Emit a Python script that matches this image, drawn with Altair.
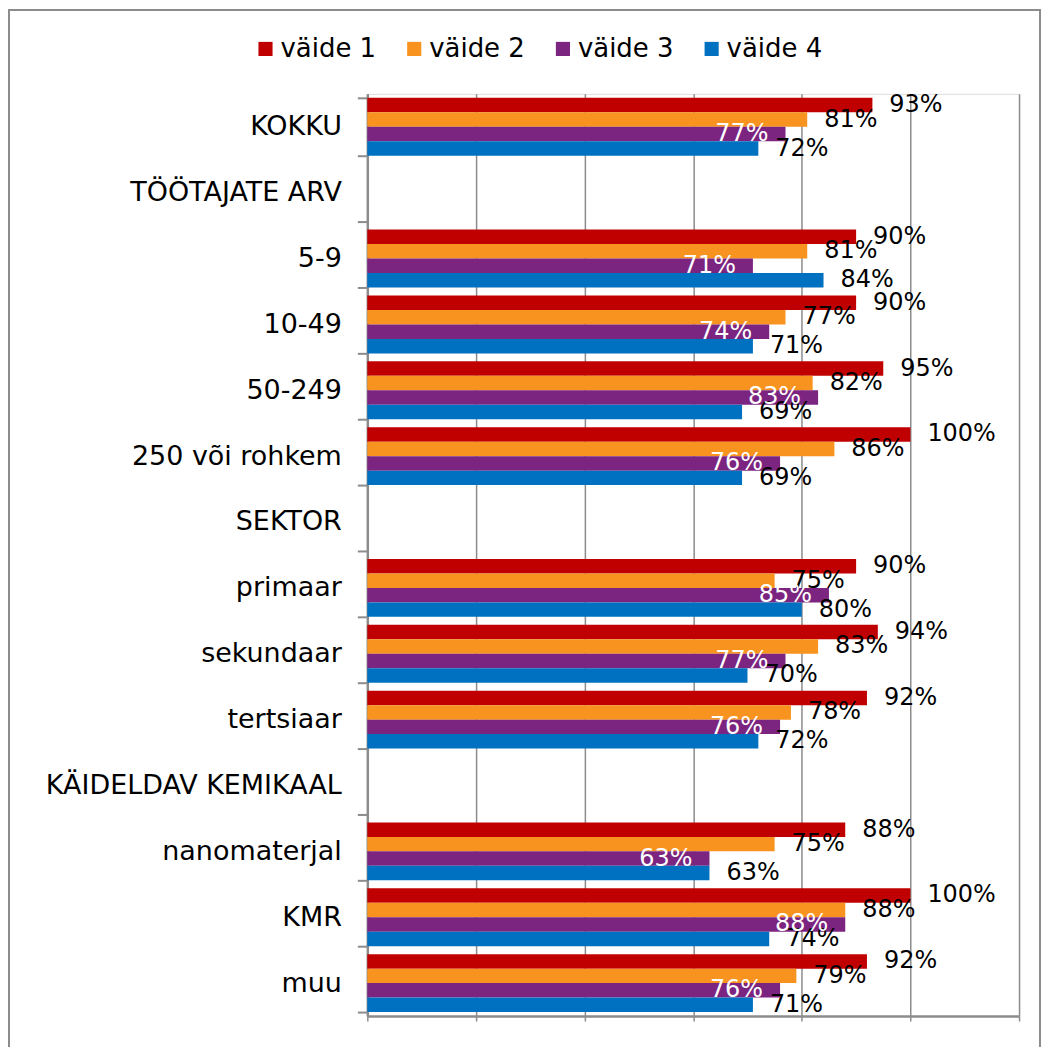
import altair as alt
import pandas as pd

categories = ["KOKKU", "TÖÖTAJATE ARV", "5-9", "10-49\u00a0", "50-249", "250 või rohkem",
              "SEKTOR", "primaar", "sekundaar", "tertsiaar", "KÄIDELDAV KEMIKAAL",
              "nanomaterjal", "KMR", "muu"]
series = ["väide 1", "väide 2", "väide 3", "väide 4"]
colors = ["#C00000", "#F7931E", "#7B2480", "#0070C0"]

v1 = [93, None, 90, 90, 95, 100, None, 90, 94, 92, None, 88, 100, 92]
v2 = [81, None, 81, 77, 82, 86, None, 75, 83, 78, None, 75, 88, 79]
v3 = [77, None, 71, 74, 83, 76, None, 85, 77, 76, None, 63, 88, 76]
v4 = [72, None, 84, 71, 69, 69, None, 80, 70, 72, None, 63, 74, 71]

rows = []
for s, vals in zip(series, [v1, v2, v3, v4]):
    for c, v in zip(categories, vals):
        if v is not None:
            rows.append({"cat": c, "series": s, "value": v})
df = pd.DataFrame(rows)

GRAY = "#8c8c8c"
FONT = "DejaVu Sans"

x_enc = alt.X("value:Q",
              scale=alt.Scale(domain=[0, 120], nice=False),
              axis=alt.Axis(values=[0, 20, 40, 60, 80, 100, 120], labels=False, title=None,
                            grid=True, gridColor=GRAY, gridWidth=1.5,
                            domainColor=GRAY, domainWidth=2.5,
                            tickColor=GRAY, tickWidth=1.5, tickSize=5))
y_enc = alt.Y("cat:N",
              scale=alt.Scale(domain=categories, paddingInner=0.12, paddingOuter=0.06),
              axis=alt.Axis(title=None, labelFontSize=27, labelFont=FONT, labelColor="black",
                            labelLimit=600, labelPadding=16, tickSize=10, tickBand="extent",
                            tickColor=GRAY, tickWidth=2, domainColor=GRAY, domainWidth=2.5,
                            grid=False))
yoff_enc = alt.YOffset("series:N", scale=alt.Scale(domain=series, paddingInner=0, paddingOuter=0))

base = alt.Chart(df).transform_calculate(label="datum.value + '%'")

bars = base.mark_bar().encode(
    x=x_enc, y=y_enc, yOffset=yoff_enc,
    color=alt.Color("series:N", scale=alt.Scale(domain=series, range=colors),
                    legend=alt.Legend(title=None, orient="none", legendX=-115, legendY=-58,
                                      direction="horizontal", columns=4,
                                      labelFontSize=26, labelFont=FONT, labelColor="black",
                                      symbolType="square", symbolSize=200, symbolStrokeWidth=0,
                                      labelOffset=2, columnPadding=25, padding=0))
)

labels_out = base.transform_filter("datum.series != 'väide 3'").mark_text(
    align="left", baseline="middle", dx=17, fontSize=24, font=FONT, color="black"
).encode(x=x_enc, y=y_enc, yOffset=yoff_enc, text="label:N")

labels_in = base.transform_filter("datum.series == 'väide 3'").mark_text(
    align="right", baseline="middle", dx=-17, fontSize=24, font=FONT, color="white"
).encode(x=x_enc, y=y_enc, yOffset=yoff_enc, text="label:N")

frame = alt.Chart(pd.DataFrame({"f": [0]})).mark_rect(
    fill="transparent", stroke=GRAY, strokeWidth=2
).encode(x=alt.value(-359), x2=alt.value(674), y=alt.value(-84), y2=alt.value(1100))

chart = alt.layer(frame, bars, labels_out, labels_in).properties(
    width=653, height=924,
    autosize=alt.AutoSizeParams(type="none"),
    padding={"left": 360, "top": 85, "right": 22, "bottom": 30},
).configure_view(stroke=GRAY, strokeWidth=2).configure(font=FONT)

chart.save("out.html", embed_options={"renderer": "svg", "actions": False})
